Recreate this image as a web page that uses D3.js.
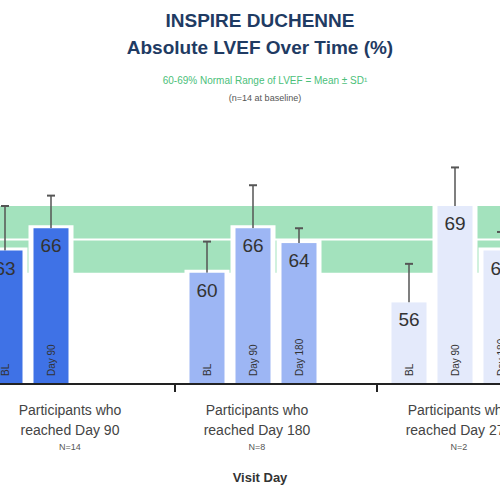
<!DOCTYPE html>
<html><head><meta charset="utf-8">
<script src="https://cdn.jsdelivr.net/npm/d3@7"></script>
<style>body{margin:0;background:#fff;font-family:Arial,"Liberation Sans",sans-serif}</style>
</head><body><div id="chart"></div>
<script>
var groups = ["Participants who|reached Day 90", "Participants who|reached Day 180", "Participants who|reached Day 270"];
var groupN = ["N=14", "N=8", "N=2"];
var visits = [["BL", "Day 90"], ["BL", "Day 90", "Day 180"], ["BL", "Day 90", "Day 180"]];
var means = [[63, 66], [60, 66, 64], [56, 69, 63]];
var upper = [[69, 70.4], [64.2, 71.8], [66], [61.2, 74.2, 65.5]];
upper = [[69, 70.4], [64.2, 71.8, 66], [61.2, 74.2, 65.5]];
var colors = ["#3f72e6", "#9db6f4", "#e4eafb"];
var normal = [60, 69], normalMean = 64.5;

var svg = d3.select("#chart").append("svg").attr("width", 500).attr("height", 500);
var y = d3.scaleLinear().domain([45, 69]).range([384, 206]);
var slot = d3.scaleLinear().domain([0, 1]).range([5, 51]);
var gx = function (g) { return 202 * g; };
var bw = 35;

svg.append("rect").attr("x", 0).attr("width", 500).attr("y", y(normal[1])).attr("height", y(normal[0]) - y(normal[1])).attr("fill", "#a3e2bd");
svg.append("line").attr("x1", 0).attr("x2", 500).attr("y1", y(normalMean)).attr("y2", y(normalMean)).attr("stroke", "#fff").attr("stroke-width", 2);

means.forEach(function (vals, g) {
  vals.forEach(function (v, s) {
    var cx = gx(g) + slot(s);
    var gg = svg.append("g");
    gg.append("rect").attr("x", cx - bw / 2 - 5).attr("width", bw + 10).attr("y", y(v) - 3).attr("height", 384 - y(v) + 3).attr("fill", "#fff");
    gg.append("line").attr("x1", cx).attr("x2", cx).attr("y1", y(v)).attr("y2", y(upper[g][s])).attr("stroke", "#555").attr("stroke-width", 1.5);
    gg.append("line").attr("x1", cx - 4).attr("x2", cx + 4).attr("y1", y(upper[g][s])).attr("y2", y(upper[g][s])).attr("stroke", "#555").attr("stroke-width", 2);
    gg.append("rect").attr("x", cx - bw / 2).attr("width", bw).attr("y", y(v)).attr("height", 384 - y(v)).attr("fill", colors[g]);
    gg.append("text").attr("x", cx).attr("y", y(v) + 24).attr("text-anchor", "middle").attr("font-size", 19).attr("fill", "#333").text(v);
    gg.append("text").attr("transform", "translate(" + (cx + 4) + ",376) rotate(-90)").attr("font-size", 10).attr("fill", "#333").text(visits[g][s]);
  });
  var lx = gx(g) + 55 + (g === 0 ? 15 : 0);
  var parts = groups[g].split("|");
  svg.append("text").attr("x", lx).attr("y", 415).attr("text-anchor", "middle").attr("font-size", 14).attr("fill", "#444").text(parts[0]);
  svg.append("text").attr("x", lx).attr("y", 435).attr("text-anchor", "middle").attr("font-size", 14).attr("fill", "#444").text(parts[1]);
  svg.append("text").attr("x", lx).attr("y", 450).attr("text-anchor", "middle").attr("font-size", 9).attr("fill", "#555").text(groupN[g]);
});

svg.append("line").attr("x1", 0).attr("x2", 500).attr("y1", 384).attr("y2", 384).attr("stroke", "#222").attr("stroke-width", 2);
[175, 377].forEach(function (t) {
  svg.append("line").attr("x1", t).attr("x2", t).attr("y1", 384).attr("y2", 392).attr("stroke", "#222").attr("stroke-width", 2);
});

svg.append("text").attr("x", 260).attr("y", 482).attr("text-anchor", "middle").attr("font-size", 13).attr("font-weight", "bold").attr("fill", "#333").text("Visit Day");
svg.append("text").attr("x", 260).attr("y", 27).attr("text-anchor", "middle").attr("font-size", 19).attr("font-weight", "bold").attr("fill", "#1f3b63").text("INSPIRE DUCHENNE");
svg.append("text").attr("x", 260).attr("y", 54).attr("text-anchor", "middle").attr("font-size", 19).attr("font-weight", "bold").attr("fill", "#1f3b63").text("Absolute LVEF Over Time (%)");
svg.append("text").attr("x", 265).attr("y", 84).attr("text-anchor", "middle").attr("font-size", 10).attr("fill", "#4cc07a").text("60-69% Normal Range of LVEF = Mean ± SD¹");
svg.append("text").attr("x", 265).attr("y", 101).attr("text-anchor", "middle").attr("font-size", 9).attr("fill", "#555").text("(n=14 at baseline)");
</script></body></html>
